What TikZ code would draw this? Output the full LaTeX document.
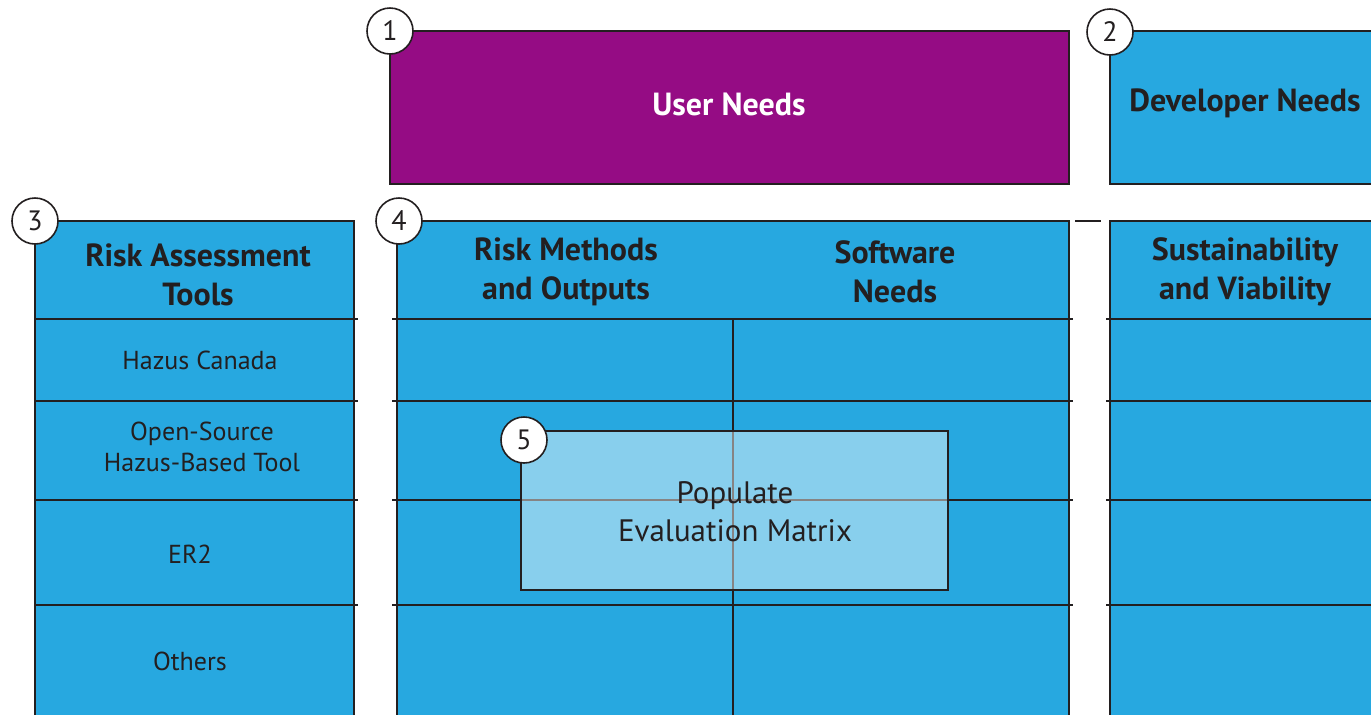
\documentclass[tikz,border=0pt]{standalone}
\usepackage{fontspec}
\setmainfont{PT Sans}
\usetikzlibrary{positioning}
\definecolor{skyblue}{RGB}{39,168,224}
\definecolor{plum}{RGB}{149,12,132}
\definecolor{ink}{RGB}{35,31,32}
\tikzset{
  panel/.style={draw=ink, line width=1pt, fill=skyblue},
  rule/.style={draw=ink, line width=0.6pt},
  badge/.style={circle, draw=ink, line width=0.8pt, fill=white, minimum size=23pt,
    inner sep=0pt, text=ink, font=\fontsize{14}{14}\selectfont},
  head/.style={text=ink, align=center, font=\bfseries\fontsize{16}{19.5}\selectfont},
  item/.style={text=ink, align=center, font=\fontsize{13}{15.5}\selectfont},
}
\begin{document}
\begin{tikzpicture}[x=0.5pt,y=-0.5pt]

  \useasboundingbox (0,0) rectangle (1371,714);
  \clip (0,0) rectangle (1371,714);

  %% top row
  \draw[panel, fill=plum] (390,31) rectangle (1069,184);
  \node[head, text=white] (user) at (729,104) {User Needs};
  \draw[panel] (1110,31) rectangle (1395,184);
  \node[head] (dev) at (1245,103) {Developer Needs};

  %% tools column
  \draw[panel] (35,221) rectangle (354,740);
  \foreach \y in {319,401,500,605}
    \draw[rule] (35,\y) -- (358,\y);
  \node[head] (tools) at (198,275) {Risk Assessment\\Tools};
  \node[item] (hazus) at (200,360) {Hazus Canada};
  \node[item] (open) at (202,447) {Open-Source\\Hazus-Based Tool};
  \node[item] (er2) at (190,554) {ER2};
  \node[item] (others) at (190,661) {Others};

  %% evaluation matrix
  \draw[panel] (397,221) rectangle (1069,740);
  \foreach \y in {319,401,500,605}
    \draw[rule] (392,\y) -- (1073,\y);
  \draw[rule, line width=0.8pt] (733,319) -- (733,740);
  \node[head] (methods) at (566,272) {Risk Methods\\and Outputs};
  \node[head] (soft) at (895,272) {Software\\Needs};

  \draw[panel] (1110,221) rectangle (1395,740);
  \foreach \y in {319,401,500,605}
    \draw[rule] (1106,\y) -- (1395,\y);
  \node[head] (sustain) at (1245,272) {Sustainability\\and Viability};

  \coordinate (gapL) at (1075,221);
  \coordinate (gapR) at (1101,221);
  \draw[ink, line width=1.3pt] (gapL) -- (gapR); %% 4 -> right panel

  %% populate step
  \draw[draw=ink, line width=0.9pt, fill=white, fill opacity=0.45] (521,431) rectangle (948,590);
  \node[item, font=\fontsize{15.5}{19}\selectfont] (pop) at (735,512) {Populate\\Evaluation Matrix};

  %% numbered badges
  \node[badge] (c1) at (390,31) {1};
  \node[badge] (c2) at (1110,32) {2};
  \node[badge] (c3) at (35,221) {3};
  \node[badge] (c4) at (399,221) {4};
  \node[badge] (c5) at (524,440) {5};
\end{tikzpicture}
\end{document}
